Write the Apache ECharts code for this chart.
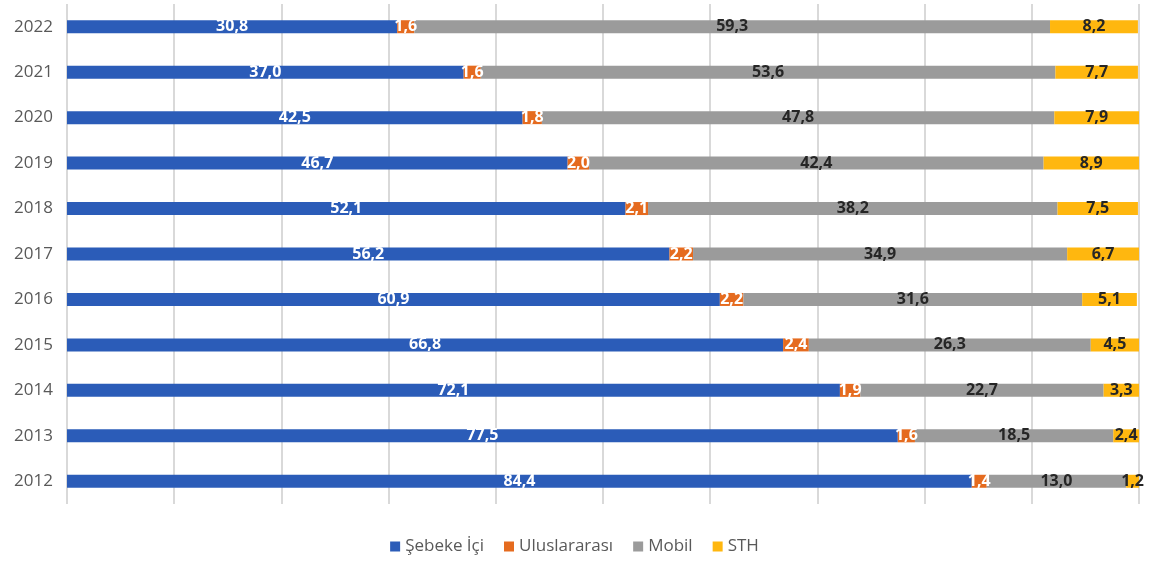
<!DOCTYPE html>
<html>
<head>
    <meta charset="UTF-8">
    <title>Şebeke İçi / Uluslararası / Mobil / STH</title>
    <script src="https://cdn.jsdelivr.net/npm/echarts@6/dist/echarts.min.js"></script>
    <style>
        html, body { margin: 0; padding: 0; background: #fff; }
        #chart { width: 1149px; height: 566px; }
    </style>
</head>
<body>
<div id="chart"></div>
<script>
    // yillar (alttan uste)
    var years = ['2012', '2013', '2014', '2015', '2016', '2017', '2018', '2019', '2020', '2021', '2022'];
    var sebekeIci = [84.4, 77.5, 72.1, 66.8, 60.9, 56.2, 52.1, 46.7, 42.5, 37.0, 30.8];
    var uluslararasi = [1.4, 1.6, 1.9, 2.4, 2.2, 2.2, 2.1, 2.0, 1.8, 1.6, 1.6];
    var mobil = [13.0, 18.5, 22.7, 26.3, 31.6, 34.9, 38.2, 42.4, 47.8, 53.6, 59.3];
    var sth = [1.2, 2.4, 3.3, 4.5, 5.1, 6.7, 7.5, 8.9, 7.9, 7.7, 8.2];

    var fontFam = '"Open Sans", "Noto Sans", sans-serif';

    // virgul ile ondalik
    function fmt(p) {
        return p.value.toFixed(1).replace('.', ',');
    }

    function makeSeries(name, data, color, labelColor) {
        return {
            name: name,
            type: 'bar',
            stack: 'toplam',
            barWidth: 13,
            data: data,
            itemStyle: { color: color },
            label: {
                show: true,
                position: 'inside',
                formatter: fmt,
                color: labelColor,
                fontFamily: fontFam,
                fontWeight: 'bold',
                fontSize: 16
            }
        };
    }

    var chart = echarts.init(document.getElementById('chart'));
    var option = {
        animation: false,
        grid: { left: 67, right: 10, top: 4, bottom: 62 },
        legend: {
            bottom: 6,
            left: 'center',
            icon: 'rect',
            itemWidth: 10,
            itemHeight: 10,
            itemGap: 20,
            textStyle: { color: '#595959', fontSize: 17, fontFamily: fontFam },
            data: ['Şebeke İçi', 'Uluslararası', 'Mobil', 'STH']
        },
        xAxis: {
            type: 'value',
            min: 0,
            max: 100,
            interval: 10,
            axisLine: { show: false },
            axisTick: { show: false },
            axisLabel: { show: false },
            splitLine: { show: true, lineStyle: { color: '#d9d9d9', width: 2 } }
        },
        yAxis: {
            type: 'category',
            data: years,
            axisLine: { show: false },
            axisTick: { show: false },
            axisLabel: { color: '#595959', fontSize: 17, fontFamily: fontFam, margin: 14 }
        },
        series: [
            makeSeries('Şebeke İçi', sebekeIci, '#2b5cb8', '#ffffff'),
            makeSeries('Uluslararası', uluslararasi, '#e56b1f', '#ffffff'),
            makeSeries('Mobil', mobil, '#9b9b9b', '#262626'),
            makeSeries('STH', sth, '#ffb70f', '#262626')
        ]
    };
    chart.setOption(option);
</script>
</body>
</html>
